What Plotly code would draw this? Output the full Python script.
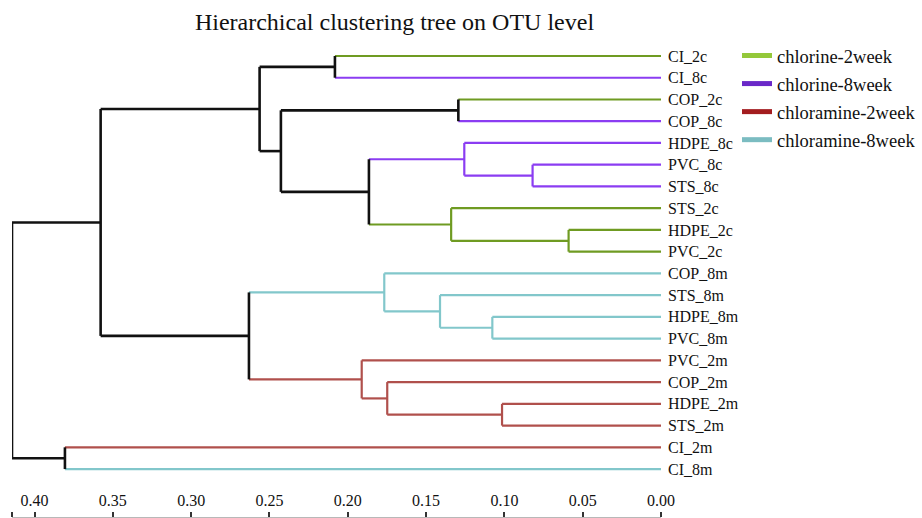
import plotly.graph_objects as go

# ---------------- data ----------------
leaves = ["CI_2c", "CI_8c", "COP_2c", "COP_8c", "HDPE_8c", "PVC_8c", "STS_8c",
          "STS_2c", "HDPE_2c", "PVC_2c", "COP_8m", "STS_8m", "HDPE_8m", "PVC_8m",
          "PVC_2m", "COP_2m", "HDPE_2m", "STS_2m", "CI_2m", "CI_8m"]
leaf_groups = ["chlorine-2week", "chlorine-8week", "chlorine-2week", "chlorine-8week",
               "chlorine-8week", "chlorine-8week", "chlorine-8week",
               "chlorine-2week", "chlorine-2week", "chlorine-2week",
               "chloramine-8week", "chloramine-8week", "chloramine-8week", "chloramine-8week",
               "chloramine-2week", "chloramine-2week", "chloramine-2week", "chloramine-2week",
               "chloramine-2week", "chloramine-8week"]
# merges: (child a, child b, height); ids 0..19 are leaves, 20+ are merge nodes in order
merge_a = [5, 8, 16, 12, 4, 2, 7, 11, 15, 10, 24, 14, 0, 25, 32, 29, 34, 18, 36]
merge_b = [6, 9, 17, 13, 20, 3, 21, 23, 22, 27, 26, 28, 1, 30, 33, 31, 35, 19, 37]
merge_h = [0.082, 0.059, 0.1015, 0.1077, 0.1256, 0.1294, 0.134, 0.1411, 0.1748,
           0.1767, 0.1865, 0.1911, 0.2082, 0.2427, 0.2563, 0.2631, 0.3578, 0.3806, 0.4144]

group_names = ["chlorine-2week", "chlorine-8week", "chloramine-2week", "chloramine-8week"]
tree_colors = {"chlorine-2week": "#6f9b22", "chlorine-8week": "#8b3df2",
               "chloramine-2week": "#b0504c", "chloramine-8week": "#82c7cb", None: "#111111"}
legend_colors = ["#94c83a", "#6a28c8", "#a31c1f", "#7bbcc1"]

tick_vals = [0.4144, 0.40, 0.35, 0.30, 0.25, 0.20, 0.15, 0.10, 0.05, 0.00]
tick_text = ["", "0.40", "0.35", "0.30", "0.25", "0.20", "0.15", "0.10", "0.05", "0.00"]

# ---------------- build dendrogram geometry ----------------
n = len(leaves)
ypos = {i: float(i) for i in range(n)}
hgt = {i: 0.0 for i in range(n)}
grp = {i: leaf_groups[i] for i in range(n)}
for k, (a, b, h) in enumerate(zip(merge_a, merge_b, merge_h)):
    node = n + k
    ypos[node] = (ypos[a] + ypos[b]) / 2
    hgt[node] = h
    grp[node] = grp[a] if (grp[a] == grp[b]) else None

segs = {key: ([], []) for key in tree_colors}
for k, (a, b, h) in enumerate(zip(merge_a, merge_b, merge_h)):
    node = n + k
    xs, ys = segs[grp[node]]
    xs += [h, h, None]
    ys += [ypos[a], ypos[b], None]
    for c in (a, b):
        xs, ys = segs[grp[c]]
        xs += [h, hgt[c], None]
        ys += [ypos[c], ypos[c], None]

fig = go.Figure()
for key, (xs, ys) in segs.items():
    fig.add_trace(go.Scatter(x=xs, y=ys, mode="lines", showlegend=False, hoverinfo="skip",
                             line=dict(color=tree_colors[key], width=2.6 if key is None else 2.2)))
for g, c in zip(group_names, legend_colors):
    fig.add_trace(go.Scatter(x=[None], y=[None], mode="lines", name=g, legendgroup=g,
                             line=dict(color=c, width=5)))

serif = "Liberation Serif, Times New Roman, serif"
top_px, bot_px, H = 40, 517, 518
step = 21.74
y_first = 56
r_top = (top_px - y_first) / step
r_bot = (bot_px - y_first) / step

fig.update_layout(
    width=922, height=518,
    margin=dict(l=12, r=922 - 661, t=top_px, b=H - bot_px, autoexpand=False),
    plot_bgcolor="white", paper_bgcolor="white",
    title=dict(text="Hierarchical clustering tree on OTU level", xref="container", yref="container",
               x=394.5 / 922, y=1 - 22 / 518, xanchor="center", yanchor="middle",
               font=dict(family=serif, size=24, color="#111")),
    xaxis=dict(range=[0.4144, 0], tickvals=tick_vals, ticktext=tick_text,
               anchor="free", position=0, side="top", ticks="outside", ticklen=5,
               tickcolor="#333", tickwidth=1.5, showline=True, linecolor="#b8b8b8", linewidth=1,
               showgrid=False, zeroline=False, automargin=False,
               tickfont=dict(family=serif, size=16, color="#111")),
    yaxis=dict(range=[r_bot, r_top], tickvals=list(range(n)), ticktext=leaves, side="right",
               ticks="", showgrid=False, zeroline=False, showline=False, ticklabelstandoff=6,
               automargin=False, tickfont=dict(family=serif, size=16, color="#111")),
    legend=dict(xref="container", yref="container", x=737 / 922, y=1 - 37 / 518,
                xanchor="left", yanchor="top", font=dict(family=serif, size=18.5, color="#111"),
                tracegroupgap=1, itemwidth=30, bgcolor="rgba(0,0,0,0)"),
    showlegend=True,
)

fig.write_html("out.html")
